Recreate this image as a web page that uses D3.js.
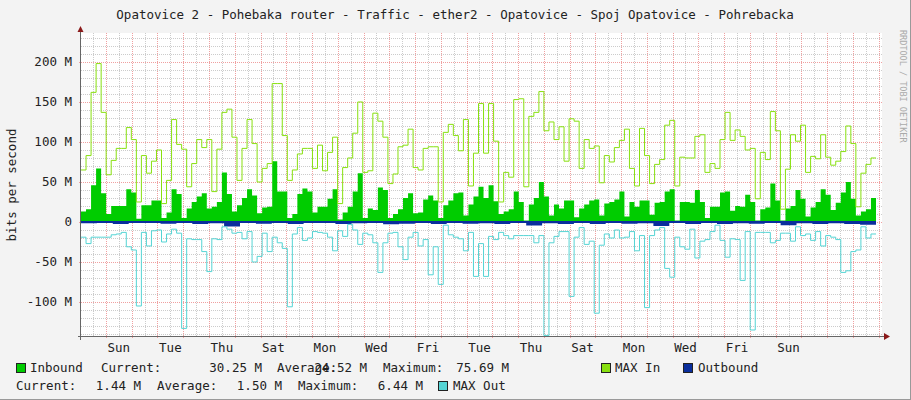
<!DOCTYPE html>
<html>
<head>
<meta charset="UTF-8">
<script src="https://d3js.org/d3.v7.min.js"></script>
<style>
  body { margin: 0; background: #f3f3f3; }
  svg { display: block; font-family: "DejaVu Sans Mono", monospace; }
</style>
</head>
<body>
<svg id="chart" width="911" height="400"></svg>
<script>
// values in M (bits per second / 1e6)
const maxIn = [65,83,162,198,137,59,77,92,92,118,103,25,83,61,76,90,23,52,128,97,91,44,73,103,93,103,38,91,137,141,106,52,92,128,98,50,67,73,173,173,
  108,52,65,85,92,92,67,96,64,87,106,23,68,80,111,150,62,64,136,126,106,48,60,94,96,116,68,65,92,94,94,25,112,122,108,89,128,45,86,148,
  86,148,101,25,62,56,153,154,44,132,137,163,114,125,103,119,76,129,126,67,103,92,95,49,83,75,93,102,116,67,45,117,83,48,72,78,121,127,45,81,
  80,80,107,109,62,73,67,103,137,102,115,107,90,92,29,87,78,138,114,16,66,109,101,121,62,82,79,109,81,71,76,88,120,98,19,61,72,80];
const inbound = [13,16,46,67,36,10,20,20,20,41,37,4,21,21,27,27,5,12,41,35,5,17,25,32,36,17,19,25,62,35,13,21,30,41,33,11,18,19,76,38,
  38,5,10,35,42,38,12,19,19,29,41,3,12,19,38,61,5,17,15,43,40,5,10,16,30,36,11,12,28,33,27,5,21,27,36,37,8,22,32,44,
  30,46,26,10,13,16,38,25,2,22,30,50,32,8,22,17,27,27,6,17,22,27,28,8,23,25,28,38,7,25,19,27,27,9,24,25,38,41,2,25,
  25,24,40,25,5,19,19,37,38,14,20,19,34,25,2,16,18,48,27,2,17,20,40,29,7,18,25,41,34,15,24,37,50,29,8,13,16,30];
const maxOut = [-19,-27,-19,-19,-19,-19,-16,-15,-13,-31,-35,-105,-13,-30,-11,-10,-25,-15,-9,-14,-133,-21,-22,-22,-37,-62,-21,-22,-6,-9,-14,-13,-21,-12,-50,-43,-14,-37,-19,-26,
  -33,-106,-15,-7,-23,-20,-12,-13,-14,-19,-36,-11,-18,-3,-10,-28,-14,-16,-26,-63,-26,-14,-13,-31,-47,-19,-13,-30,-22,-66,-31,-78,-4,-16,-19,-21,-36,-13,-68,-27,
  -68,-18,-22,-13,-17,-21,-17,-17,-17,-17,-26,-17,-142,-26,-18,-12,-12,-93,-19,-7,-28,-24,-114,-29,-15,-20,-10,-20,-19,-12,-36,-17,-107,-17,-10,-7,-58,-69,-19,-31,
  -34,-9,-45,-24,-22,-12,-4,-23,-44,-21,-22,-73,-12,-135,-13,-13,-13,-26,-23,-14,-14,-24,-6,-17,-15,-23,-12,-30,-17,-19,-22,-63,-61,-37,-35,-6,-20,-15];
const outbound = [-1.5,-1.2,-2.5,-1.4,-1.2,-2.2,-1.3,-2.4,-1.5,-5.5,-1.4,-2.2,-1.3,-2.5,-1.4,-1.3,-2.6,-1.5,-1.2,-2.8,-2.3,-1.4,-2.4,-1.3,-2.2,
  -1.5,-2.6,-1.4,-4.5,-1.6,-2.4,-1.3,-2.5,-1.4,-2.2,-1.5,-5.0,-1.4,-2.6,-1.3,-2.4,-1.5,-2.3,-1.4,-4.0,-1.5,-2.5,-1.6,-2.4,-3.6];
const days = ["Sun","Tue","Thu","Sat","Mon","Wed","Fri","Tue","Thu","Sat","Mon","Wed","Fri","Sun"];
const yTicks = [-100,-50,0,50,100,150,200];

const svg = d3.select("#chart");
const pLeft = 81, pRight = 882, pTop = 33, pBottom = 336;
const dayMs = 864e5;
const t0 = new Date(2023, 0, 1); // a Sunday
const x = d3.scaleTime()
  .domain([new Date(+t0 - 0.97 * dayMs), new Date(+t0 + 30.13 * dayMs)])
  .range([pLeft, pRight]);
const y = d3.scaleLinear().domain([-142.5, 236.2]).range([pBottom, pTop]);
const dataEnd = x.invert(876);

// background canvas
svg.append("rect").attr("x", pLeft).attr("y", pTop).attr("width", pRight - pLeft).attr("height", pBottom - pTop).attr("fill", "#fff");
svg.append("line").attr("x1", 910.5).attr("x2", 910.5).attr("y1", 0).attr("y2", 400).attr("stroke", "#999");
svg.append("line").attr("x1", 0).attr("x2", 911).attr("y1", 399.5).attr("y2", 399.5).attr("stroke", "#999");

// grid
const g = svg.append("g");
d3.range(-140, 236, 10).filter(v => v % 50 !== 0).forEach(v => {
  g.append("line").attr("x1", pLeft).attr("x2", pRight).attr("y1", Math.round(y(v)) + 0.5).attr("y2", Math.round(y(v)) + 0.5)
    .attr("stroke", "#ccc").attr("stroke-dasharray", "1,1");
});
d3.range(-1, 62).map(i => new Date(+t0 + i * dayMs / 2)).forEach(d => {
  const k = Math.round((+d - +t0) / (dayMs / 2));
  if (k % 2 === 0 || x(d) <= pLeft || x(d) >= pRight) return;
  g.append("line").attr("x1", Math.round(x(d)) + 0.5).attr("x2", Math.round(x(d)) + 0.5).attr("y1", pTop).attr("y2", pBottom)
    .attr("stroke", "#ccc").attr("stroke-dasharray", "1,1");
});
yTicks.forEach(v => {
  g.append("line").attr("x1", pLeft - 2).attr("x2", pRight).attr("y1", Math.round(y(v)) + 0.5).attr("y2", Math.round(y(v)) + 0.5)
    .attr("stroke", "#f0a0a0").attr("stroke-dasharray", "1,1");
});
d3.timeDay.range(x.domain()[0], x.domain()[1]).forEach(d => {
  if (x(d) <= pLeft) return;
  g.append("line").attr("x1", Math.round(x(d)) + 0.5).attr("x2", Math.round(x(d)) + 0.5).attr("y1", pTop).attr("y2", pBottom + 2)
    .attr("stroke", "#f0a0a0").attr("stroke-dasharray", "1,1");
});

// series
function stepData(arr) {
  const s = d3.scaleLinear().domain([0, arr.length]).range([+x.domain()[0], +dataEnd]);
  const pts = arr.map((v, i) => [x(new Date(s(i))), y(v)]);
  pts.push([x(new Date(s(arr.length))), y(arr[arr.length - 1])]);
  return pts;
}
const area = d3.area().x(d => d[0]).y0(y(0)).y1(d => d[1]).curve(d3.curveStepAfter);
const line = d3.line().x(d => d[0]).y(d => d[1]).curve(d3.curveStepAfter);

svg.append("path").attr("d", area(stepData(inbound))).attr("fill", "#00cc00");
svg.append("path").attr("d", area(stepData(outbound))).attr("fill", "#0a2e9c");
svg.append("path").attr("d", line(stepData(maxIn))).attr("fill", "none").attr("stroke", "#88e010").attr("stroke-width", 1);
svg.append("path").attr("d", line(stepData(maxOut))).attr("fill", "none").attr("stroke", "#55d4d4").attr("stroke-width", 1);
svg.append("line").attr("x1", pLeft).attr("x2", 876).attr("y1", y(0)).attr("y2", y(0)).attr("stroke", "#0a2e9c").attr("stroke-width", 2);

// axes
svg.append("line").attr("x1", pLeft - 0.5).attr("x2", pLeft - 0.5).attr("y1", pTop - 4).attr("y2", pBottom + 4).attr("stroke", "#666");
svg.append("line").attr("x1", pLeft - 3).attr("x2", pRight + 2).attr("y1", pBottom + 0.5).attr("y2", pBottom + 0.5).attr("stroke", "#666");
svg.append("path").attr("d", `M${pLeft - 3.5},${pTop - 1}L${pLeft + 2.5},${pTop - 1}L${pLeft - 0.5},${pTop - 7}Z`).attr("fill", "#8b1a1a");
svg.append("path").attr("d", `M${pRight + 2},${pBottom - 3}L${pRight + 2},${pBottom + 4}L${pRight + 8},${pBottom + 0.5}Z`).attr("fill", "#8b1a1a");

const fontSz = 12.5;
yTicks.forEach(v => {
  svg.append("text").attr("x", pLeft - 9).attr("y", y(v) + 4.5).attr("text-anchor", "end").attr("font-size", fontSz)
    .attr("fill", "#222").text(v === 0 ? "0" : v + " M");
});
days.forEach((dname, i) => {
  const d = new Date(+t0 + (i * 2 + 0.5) * dayMs);
  svg.append("text").attr("x", x(d)).attr("y", 352).attr("text-anchor", "middle").attr("font-size", fontSz)
    .attr("fill", "#222").text(dname);
});

svg.append("text").attr("x", 455).attr("y", 19).attr("text-anchor", "middle").attr("font-size", fontSz).attr("fill", "#222")
  .text("Opatovice 2 - Pohebaka router - Traffic - ether2 - Opatovice - Spoj Opatovice - Pohrebacka");
svg.append("text").attr("transform", "translate(16,185) rotate(-90)").attr("text-anchor", "middle").attr("font-size", fontSz)
  .attr("fill", "#222").text("bits per second");
svg.append("text").attr("transform", "translate(900,30) rotate(90)").attr("font-size", 8.5).attr("fill", "#aaa")
  .text("RRDTOOL / TOBI OETIKER");

// legend
function sq(xp, yp, col) {
  svg.append("rect").attr("x", xp + 0.5).attr("y", yp + 0.5).attr("width", 9).attr("height", 9).attr("fill", col).attr("stroke", "#222");
}
function txt(xp, yp, s, anchor) {
  svg.append("text").attr("x", xp).attr("y", yp).attr("font-size", fontSz).attr("fill", "#222")
    .attr("text-anchor", anchor || "start").text(s);
}
sq(16, 363, "#00cc00"); txt(30, 372, "Inbound");
txt(101, 372, "Current:"); txt(262, 372, "30.25 M", "end");
txt(277, 372, "Average:"); txt(367, 372, "24.52 M", "end");
txt(383, 372, "Maximum:"); txt(509, 372, "75.69 M", "end");
sq(601, 363, "#88e010"); txt(615, 372, "MAX In");
sq(683, 363, "#0a2e9c"); txt(698, 372, "Outbound");
txt(16, 390, "Current:"); txt(141, 390, "1.44 M", "end");
txt(157, 390, "Average:"); txt(282, 390, "1.50 M", "end");
txt(298, 390, "Maximum:"); txt(423, 390, "6.44 M", "end");
sq(438, 381, "#55d4d4"); txt(453, 390, "MAX Out");
</script>
</body>
</html>
